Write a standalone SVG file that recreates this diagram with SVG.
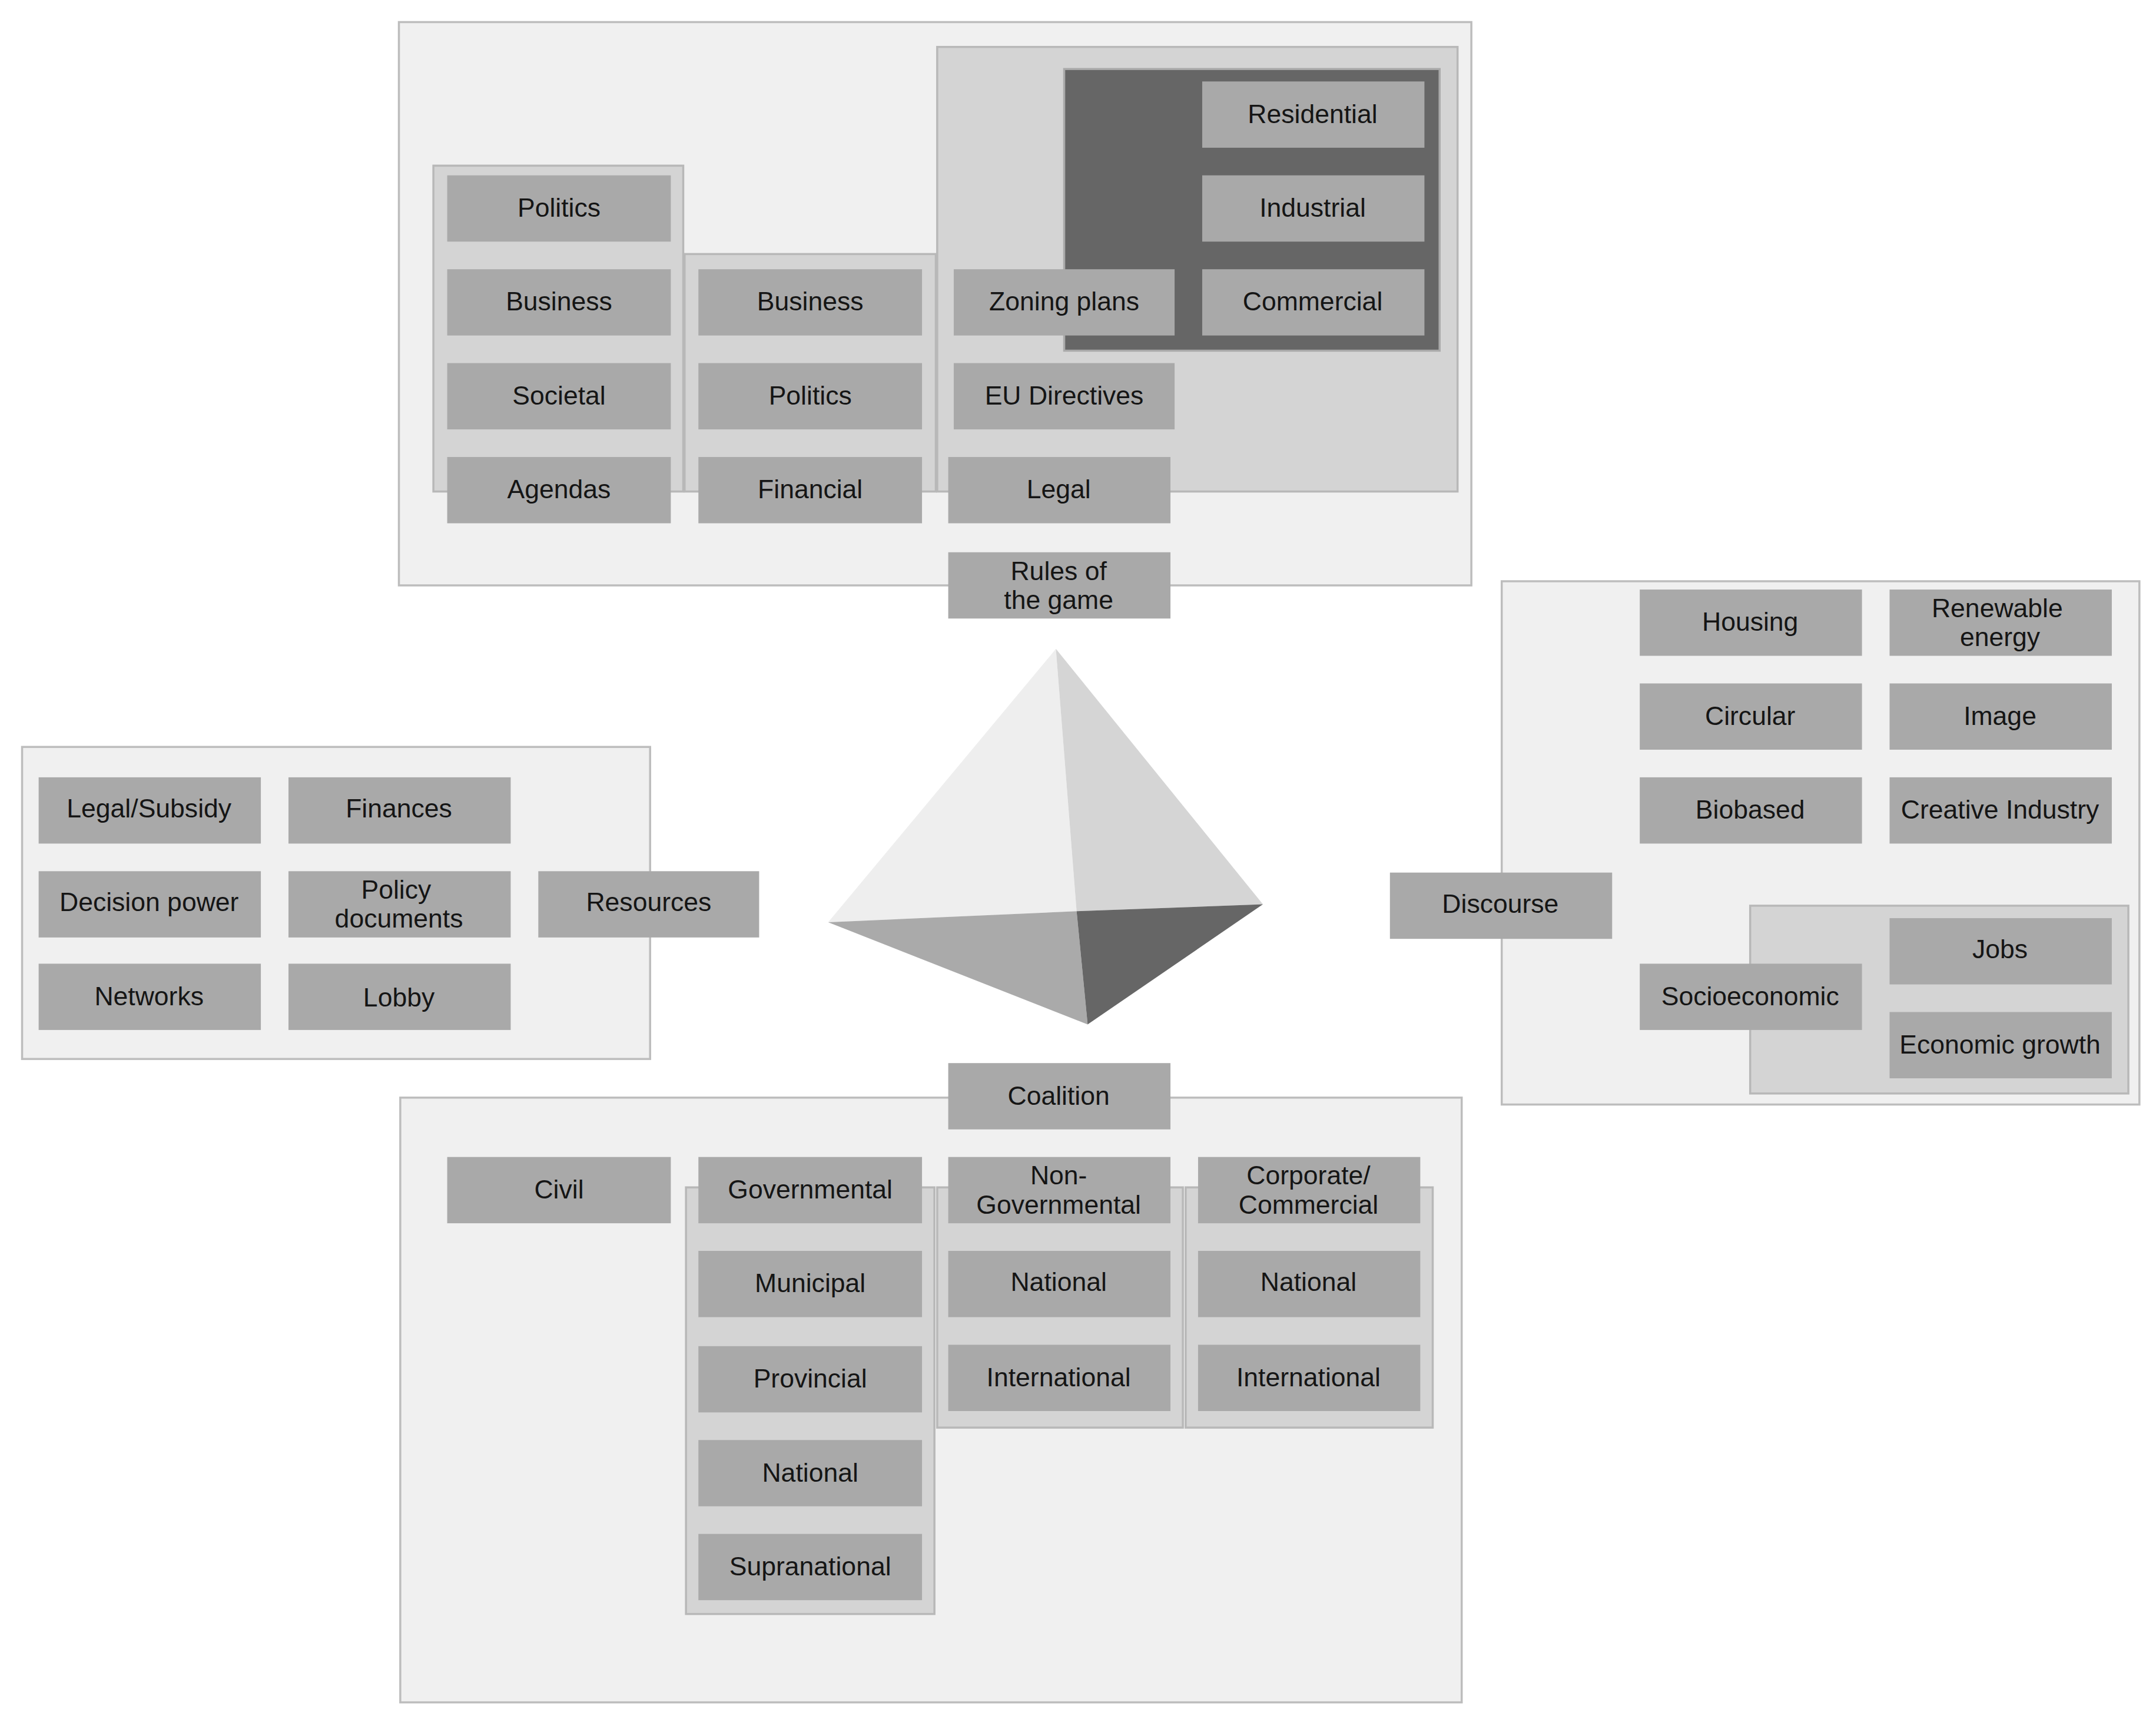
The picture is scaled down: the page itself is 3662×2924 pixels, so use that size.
<svg xmlns="http://www.w3.org/2000/svg" width="3662" height="2924" viewBox="0 0 3662 2924">
<style>
.panel{fill:#f0f0f0;stroke:#bdbdbd;stroke-width:1.5}
.back{fill:#d4d4d4;stroke:#b8b8b8;stroke-width:1.5}
.dark{fill:#666;stroke:#aaa;stroke-width:1.5}
.b{fill:#a9a9a9}
text{font-family:"Liberation Sans",Arial,sans-serif;font-size:19px;fill:#151515;text-anchor:middle}
</style>
<rect width="3662" height="2924" fill="#fff"/>
<g transform="scale(2.3444)">
<g id="panels">
<rect class="panel" x="289" y="16" width="777" height="408"/>
<rect class="back" x="679" y="34" width="377" height="322"/>
<rect class="dark" x="771" y="50" width="272" height="204"/>
<rect class="back" x="314" y="120" width="181" height="236"/>
<rect class="back" x="496" y="184" width="182" height="172"/>
<rect class="panel" x="16" y="541" width="455" height="226"/>
<rect class="panel" x="1088" y="421" width="462" height="379"/>
<rect class="back" x="1268" y="656" width="274" height="136"/>
<rect class="panel" x="290" y="795" width="769" height="438"/>
<rect class="back" x="497" y="860" width="180" height="309"/>
<rect class="back" x="679" y="860" width="178" height="174"/>
<rect class="back" x="859" y="860" width="179" height="174"/>
</g>
<g id="pyramid">
<polygon points="765,470 600,668 780,660" fill="#eeeeee"/>
<polygon points="765,470 780,660 915,655" fill="#d5d5d5"/>
<polygon points="600,668 780,660 788,742" fill="#aaaaaa"/>
<polygon points="780,660 915,655 788,742" fill="#666666"/>
</g>
<g id="connectors"></g>
<g id="n-politics1"><rect class="b" x="324" y="127" width="162" height="48"/><text x="405" y="157">Politics</text></g>
<g id="n-business1"><rect class="b" x="324" y="195" width="162" height="48"/><text x="405" y="225">Business</text></g>
<g id="n-societal"><rect class="b" x="324" y="263" width="162" height="48"/><text x="405" y="293">Societal</text></g>
<g id="n-agendas"><rect class="b" x="324" y="331" width="162" height="48"/><text x="405" y="361">Agendas</text></g>
<g id="n-business2"><rect class="b" x="506" y="195" width="162" height="48"/><text x="587" y="225">Business</text></g>
<g id="n-politics2"><rect class="b" x="506" y="263" width="162" height="48"/><text x="587" y="293">Politics</text></g>
<g id="n-financial"><rect class="b" x="506" y="331" width="162" height="48"/><text x="587" y="361">Financial</text></g>
<g id="n-zoning"><rect class="b" x="691" y="195" width="160" height="48"/><text x="771" y="225">Zoning plans</text></g>
<g id="n-eu"><rect class="b" x="691" y="263" width="160" height="48"/><text x="771" y="293">EU Directives</text></g>
<g id="n-legal"><rect class="b" x="687" y="331" width="161" height="48"/><text x="767" y="361">Legal</text></g>
<g id="n-residential"><rect class="b" x="871" y="59" width="161" height="48"/><text x="951" y="89">Residential</text></g>
<g id="n-industrial"><rect class="b" x="871" y="127" width="161" height="48"/><text x="951" y="157">Industrial</text></g>
<g id="n-commercial"><rect class="b" x="871" y="195" width="161" height="48"/><text x="951" y="225">Commercial</text></g>
<g id="n-rules"><rect class="b" x="687" y="400" width="161" height="48"/><text x="767" y="420">Rules of</text><text x="767" y="441">the game</text></g>
<g id="n-legalsubsidy"><rect class="b" x="28" y="563" width="161" height="48"/><text x="108" y="592">Legal/Subsidy</text></g>
<g id="n-finances"><rect class="b" x="209" y="563" width="161" height="48"/><text x="289" y="592">Finances</text></g>
<g id="n-decision"><rect class="b" x="28" y="631" width="161" height="48"/><text x="108" y="660">Decision power</text></g>
<g id="n-policy"><rect class="b" x="209" y="631" width="161" height="48"/><text x="287" y="651">Policy</text><text x="289" y="672">documents</text></g>
<g id="n-networks"><rect class="b" x="28" y="698" width="161" height="48"/><text x="108" y="728">Networks</text></g>
<g id="n-lobby"><rect class="b" x="209" y="698" width="161" height="48"/><text x="289" y="729">Lobby</text></g>
<g id="n-resources"><rect class="b" x="390" y="631" width="160" height="48"/><text x="470" y="660">Resources</text></g>
<g id="n-housing"><rect class="b" x="1188" y="427" width="161" height="48"/><text x="1268" y="457">Housing</text></g>
<g id="n-renewable"><rect class="b" x="1369" y="427" width="161" height="48"/><text x="1447" y="447">Renewable</text><text x="1449" y="468">energy</text></g>
<g id="n-circular"><rect class="b" x="1188" y="495" width="161" height="48"/><text x="1268" y="525">Circular</text></g>
<g id="n-image"><rect class="b" x="1369" y="495" width="161" height="48"/><text x="1449" y="525">Image</text></g>
<g id="n-biobased"><rect class="b" x="1188" y="563" width="161" height="48"/><text x="1268" y="593">Biobased</text></g>
<g id="n-creative"><rect class="b" x="1369" y="563" width="161" height="48"/><text x="1449" y="593">Creative Industry</text></g>
<g id="n-discourse"><rect class="b" x="1007" y="632" width="161" height="48"/><text x="1087" y="661">Discourse</text></g>
<g id="n-socio"><rect class="b" x="1188" y="698" width="161" height="48"/><text x="1268" y="728">Socioeconomic</text></g>
<g id="n-jobs"><rect class="b" x="1369" y="665" width="161" height="48"/><text x="1449" y="694">Jobs</text></g>
<g id="n-growth"><rect class="b" x="1369" y="733" width="161" height="48"/><text x="1449" y="763">Economic growth</text></g>
<g id="n-coalition"><rect class="b" x="687" y="770" width="161" height="48"/><text x="767" y="800">Coalition</text></g>
<g id="n-civil"><rect class="b" x="324" y="838" width="162" height="48"/><text x="405" y="868">Civil</text></g>
<g id="n-gov"><rect class="b" x="506" y="838" width="162" height="48"/><text x="587" y="868">Governmental</text></g>
<g id="n-ngo"><rect class="b" x="687" y="838" width="161" height="48"/><text x="767" y="858">Non-</text><text x="767" y="879">Governmental</text></g>
<g id="n-corp"><rect class="b" x="868" y="838" width="161" height="48"/><text x="948" y="858">Corporate/</text><text x="948" y="879">Commercial</text></g>
<g id="n-municipal"><rect class="b" x="506" y="906" width="162" height="48"/><text x="587" y="936">Municipal</text></g>
<g id="n-provincial"><rect class="b" x="506" y="975" width="162" height="48"/><text x="587" y="1005">Provincial</text></g>
<g id="n-national1"><rect class="b" x="506" y="1043" width="162" height="48"/><text x="587" y="1073">National</text></g>
<g id="n-supra"><rect class="b" x="506" y="1111" width="162" height="48"/><text x="587" y="1141">Supranational</text></g>
<g id="n-national2"><rect class="b" x="687" y="906" width="161" height="48"/><text x="767" y="935">National</text></g>
<g id="n-intl2"><rect class="b" x="687" y="974" width="161" height="48"/><text x="767" y="1004">International</text></g>
<g id="n-national3"><rect class="b" x="868" y="906" width="161" height="48"/><text x="948" y="935">National</text></g>
<g id="n-intl3"><rect class="b" x="868" y="974" width="161" height="48"/><text x="948" y="1004">International</text></g>
</g>
</svg>
